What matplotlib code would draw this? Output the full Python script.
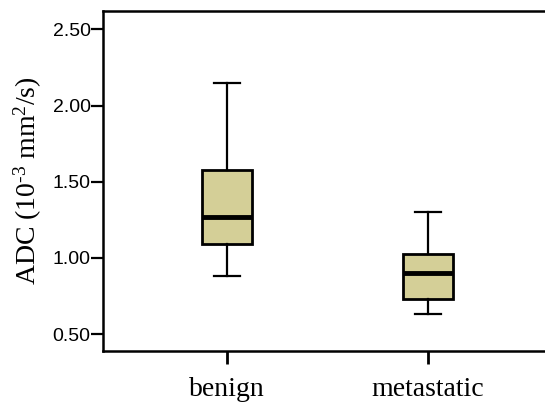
import matplotlib
matplotlib.use('Agg')
import matplotlib.pyplot as plt

plt.rcParams['mathtext.fontset'] = 'custom'
plt.rcParams['mathtext.rm'] = 'Liberation Serif'
plt.rcParams['mathtext.it'] = 'Liberation Serif:italic'

# box statistics (ADC, 10^-3 mm^2/s)
groups = ['benign', 'metastatic']
whisker_low = [0.88, 0.63]
q1 = [1.09, 0.73]
median = [1.27, 0.90]
q3 = [1.575, 1.025]
whisker_high = [2.145, 1.30]
yticks = [0.50, 1.00, 1.50, 2.00, 2.50]

box_color = '#d4cf97'

fig = plt.figure(figsize=(5.45, 4.03), dpi=100)
# the frame runs off the right side of the picture in the original crop
ax = fig.add_axes([103 / 545, 52 / 403, 480 / 545, 340 / 403])

stats = []
for i, g in enumerate(groups):
    stats.append(dict(label=g, whislo=whisker_low[i], q1=q1[i], med=median[i],
                      q3=q3[i], whishi=whisker_high[i], fliers=[]))

ax.bxp(stats, positions=[1, 2], widths=0.25, patch_artist=True, showfliers=False,
       boxprops=dict(facecolor=box_color, edgecolor='black', linewidth=2),
       medianprops=dict(color='black', linewidth=3.5),
       whiskerprops=dict(color='black', linewidth=1.6),
       capprops=dict(color='black', linewidth=1.6), capwidths=0.13)

ax.set_xlim(0.383, 0.383 + 480 / 201)
ax.set_ylim(0.39, 2.62)
ax.set_yticks(yticks)
ax.set_yticklabels([f'{v:.2f}' for v in yticks], fontfamily='Liberation Sans', fontsize=14)
ax.set_xticks([1, 2])
ax.set_xticklabels(groups, fontfamily='Liberation Serif', fontsize=20)

ax.tick_params(axis='y', direction='out', length=9, width=1.6, pad=0)
ax.tick_params(axis='x', direction='out', length=9, width=2, pad=10)
for s in ax.spines.values():
    s.set_linewidth(1.8)
ax.spines['right'].set_visible(False)

ax.set_ylabel('ADC (10$^{\\mathregular{\u20103}}$ mm$^{\\mathregular{2}}$/s)',
              fontfamily='Liberation Serif', fontsize=20, labelpad=6)

fig.savefig('out.png', dpi=100)
